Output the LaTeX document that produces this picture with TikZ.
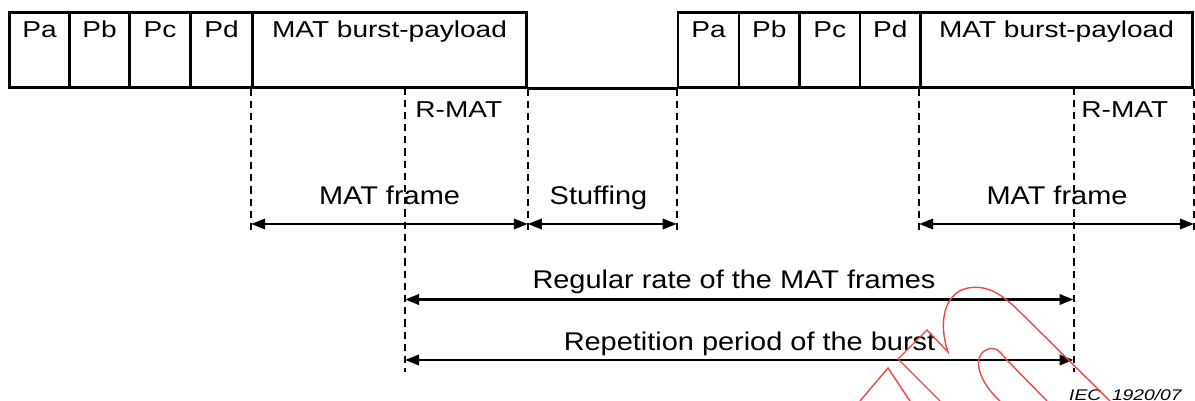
\documentclass[tikz,border=0pt]{standalone}
\usepackage{fontspec}
\setmainfont{Liberation Sans}
\newfontfamily\topfont[FakeStretch=1.22]{Liberation Sans}
\newfontfamily\lowfont[FakeStretch=1.13]{Liberation Sans}
\newfontfamily\iecfont[FakeStretch=1.25]{Liberation Sans}
\usetikzlibrary{arrows.meta,fit}
\definecolor{wmred}{RGB}{240,70,70}
\begin{document}
\begin{tikzpicture}[x=0.5pt,y=-0.5pt,
  cell/.style={draw,line width=1.3pt,inner sep=0pt},
  toplbl/.style={inner sep=0pt,anchor=base,font=\topfont\fontsize{11.5}{13}\selectfont},
  rmlbl/.style={inner sep=0pt,anchor=base west,font=\topfont\fontsize{11.5}{13}\selectfont},
  lowlbl/.style={inner sep=0pt,anchor=base,font=\lowfont\fontsize{12.8}{15}\selectfont},
  guide/.style={line width=1pt,dash pattern=on 3.6pt off 2.5pt},
  span/.style={line width=1.2pt,{Triangle[length=7pt,width=5.2pt]}-{Triangle[length=7pt,width=5.2pt]}},
  wm/.style={draw=wmred,line width=0.7pt,line join=miter}]
\useasboundingbox (0,0) rectangle (1195,401);

% first burst
\node[cell,fit={(9.5,12.5) (69.5,87.5)}] (pa1) {};
\node[cell,fit={(69.5,12.5) (129.5,87.5)}] (pb1) {};
\node[cell,fit={(129.5,12.5) (190.5,87.5)}] (pc1) {};
\node[cell,fit={(190.5,12.5) (252.5,87.5)}] (pd1) {};
\node[cell,fit={(252.5,12.5) (526.5,87.5)}] (pay1) {};
% second burst
\node[cell,fit={(678,12.5) (739,87.5)}] (pa2) {};
\node[cell,fit={(739,12.5) (799.5,87.5)}] (pb2) {};
\node[cell,fit={(799.5,12.5) (860,87.5)}] (pc2) {};
\node[cell,fit={(860,12.5) (920.5,87.5)}] (pd2) {};
\node[cell,fit={(920.5,12.5) (1192.5,87.5)}] (pay2) {};

% field names
\foreach \b in {1,2}{
  \node[toplbl] (tpa\b) at (pa\b.center |- 0,37.5) {Pa};
  \node[toplbl] (tpb\b) at (pb\b.center |- 0,37.5) {Pb};
  \node[toplbl] (tpc\b) at (pc\b.center |- 0,37.5) {Pc};
  \node[toplbl] (tpd\b) at (pd\b.center |- 0,37.5) {Pd};
  \node[toplbl] (tpay\b) at (pay\b.center |- 0,37.5) {MAT burst-payload};
}

% stuffing gap baseline
\draw[line width=1.3pt] (pay1.south east) -- (pa2.south west);

% R-MAT markers on the payload bottoms
\coordinate (rm1) at (405,87.5);
\coordinate (rm2) at (1073.5,87.5);

% vertical guides
\coordinate (g1) at (pay1.south west |- 0,233);
\coordinate (g2) at (pay1.south east |- 0,233);
\coordinate (g3) at (pa2.south west |- 0,233);
\coordinate (g4) at (pay2.south west |- 0,233);
\coordinate (g5) at (pay2.south east |- 0,233);
\coordinate (g6) at (rm1 |- 0,372);
\coordinate (g7) at (rm2 |- 0,372);
\draw[guide] (pay1.south west) -- (g1);
\draw[guide] (pay1.south east) -- (g2);
\draw[guide] (pa2.south west) -- (g3);
\draw[guide] (pay2.south west) -- (g4);
\draw[guide] (pay2.south east) -- (g5);
\draw[guide] (rm1) -- (g6);
\draw[guide] (rm2) -- (g7);

\node[rmlbl] (rmat1) at (415,117.3) {R-MAT};
\node[rmlbl] (rmat2) at (1081,117.3) {R-MAT};

% frame spans
\coordinate (a1) at (pay1.south west |- 0,224);
\coordinate (a2) at (pay1.south east |- 0,224);
\coordinate (a3) at (pa2.south west |- 0,224);
\coordinate (a4) at (pay2.south west |- 0,224);
\coordinate (a5) at (pay2.south east |- 0,224);
\draw[span] (a1) -- (a2);
\draw[span] (a2) -- (a3);
\draw[span] (a4) -- (a5);
\node[lowlbl] (mf1) at (389.5,205) {MAT frame};
\node[lowlbl] (stf) at (598.5,205) {Stuffing};
\node[lowlbl] (mf2) at (1057,205) {MAT frame};

% rate and period spans
\coordinate (r1) at (rm1 |- 0,299.5);
\coordinate (r2) at (rm2 |- 0,299.5);
\coordinate (p1) at (rm1 |- 0,360);
\coordinate (p2) at (rm2 |- 0,360);
\draw[span] (r1) -- (r2);
\draw[span] (p1) -- (p2);
\node[lowlbl] (rate) at (734,288.3) {Regular rate of the MAT frames};
\node[lowlbl] (rep) at (749.5,350) {Repetition period of the burst};

% reference number
\node[inner sep=0pt,anchor=base east,font=\iecfont\itshape\fontsize{7.7}{9}\selectfont] (iec) at (1182,400) {IEC\ \ 1920/07};

% red outline mark
\draw[wm] (940,401) -- (898,359) -- (927,330) -- (948,352)
  .. controls (938,322) and (944,293) .. (968,288)
  .. controls (990,284) and (1006,298) .. (1022,314) -- (1110,401);
\draw[wm] (860,401) -- (888,368) -- (910,401);
\draw[wm] (1000,401) .. controls (978,381) and (972,357) .. (986,350)
  .. controls (994,346) and (999,350) .. (1004,357) -- (1047,401);
\end{tikzpicture}
\end{document}
